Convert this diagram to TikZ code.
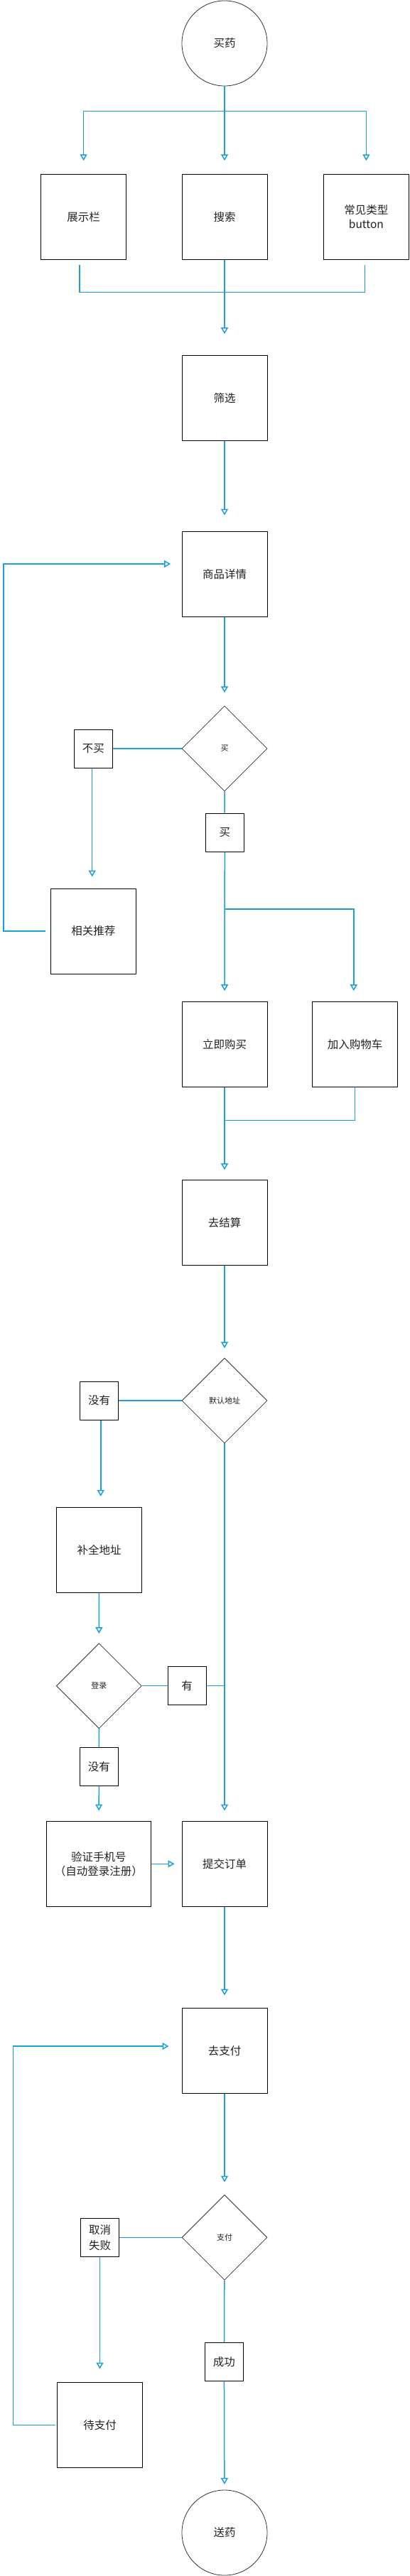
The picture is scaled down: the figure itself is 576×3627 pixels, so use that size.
\documentclass[tikz,border=0pt]{standalone}
\usepackage{fontspec}
\setmainfont{Noto Sans CJK SC}
\usetikzlibrary{shapes.geometric,arrows.meta}
\definecolor{bleu}{RGB}{27,160,222}
\definecolor{encre}{RGB}{34,34,34}

\begin{document}
\begin{tikzpicture}[x=1pt, y=-1pt,
  boite/.style={draw, line width=1pt, minimum width=120pt, minimum height=120pt, inner sep=0pt, align=center, text=encre, font=\fontsize{15.5}{20}\selectfont},
  etiq/.style={draw, line width=1pt, minimum width=54pt, minimum height=54pt, inner sep=0pt, align=center, text=encre, font=\fontsize{15.5}{22}\selectfont},
  losange/.style={diamond, draw=black!80, line width=0.8pt, aspect=1, minimum width=120pt, minimum height=120pt, inner sep=0pt, text=encre, font=\fontsize{11}{13}\selectfont},
  rond/.style={circle, draw=black!80, line width=0.8pt, minimum size=120pt, inner sep=0pt, text=encre, font=\fontsize{15.5}{18}\selectfont},
  lien/.style={bleu, line width=1.5pt},
  fleche/.style={lien, -{Triangle[open, length=9pt, width=10pt]}}]
  \useasboundingbox[fill=white] (0,0) rectangle (576,3627);
  % Entrée
  \node[rond] (buy) at (316,61) {买药};
  \node[boite] (disp) at (117.6,305.5) {展示栏};
  \node[boite] (search) at (316,305.5) {搜索};
  \node[boite] (types) at (515.4,305.5) {常见类型\\button};
  \coordinate (j1) at (316,156.7);
  \draw[fleche, shorten >=18.7pt] (buy) -- (search);
  \draw[fleche, shorten >=18.7pt] (j1) -| (disp);
  \draw[fleche, shorten >=18.7pt] (j1) -| (types);
  \draw[lien] ([xshift=-5.6pt, yshift=-7.4pt]disp.south) -- ++(0,38) -| ([xshift=-1.8pt, yshift=-7.4pt]types.south);
  % Choix du produit
  \node[boite] (filter) at (316,560.3) {筛选};
  \node[boite] (detail) at (316,808.3) {商品详情};
  \draw[fleche, shorten >=29.6pt] (search) -- (filter);
  \draw[fleche, shorten >=22.3pt] (filter) -- (detail);
  \node[losange] (dec1) at (316,1054) {买};
  \node[etiq] (nobuy) at (131.3,1054) {不买};
  \node[boite] (reco) at (131.3,1311) {相关推荐};
  \node[etiq] (yes) at (316.3,1172) {买};
  \draw[fleche, shorten >=18.3pt] (detail) -- (dec1);
  \draw[lien] (dec1) -- (nobuy);
  \draw[fleche, shorten >=16pt] ([xshift=-1.6pt]nobuy.south) -- ([xshift=-1.6pt]reco.north);
  \draw[fleche, shorten >=15.4pt] ([xshift=-7pt]reco.west) -- ++(-59,0) |- ([yshift=14.3pt]detail.west);
  \draw[lien] (dec1) -- (yes);
  % Achat
  \node[boite] (now) at (316,1470.3) {立即购买};
  \node[boite] (cart) at (499.5,1470.3) {加入购物车};
  \node[boite] (pay) at (316,1721.3) {去结算};
  \coordinate (j3) at (316,1280);
  \coordinate (j4) at (316,1577.3);
  \draw[fleche, shorten >=14.6pt] (yes) -- (now);
  \draw[fleche, shorten >=14.6pt] (j3) -| ([xshift=-1.7pt]cart.north);
  \draw[fleche, shorten >=13.6pt] (now) -- (pay);
  \draw[lien] (cart) |- (j4);
  % Adresse et connexion
  \node[losange] (dec2) at (316,1972) {默认地址};
  \node[etiq] (noaddr) at (139.5,1972) {没有};
  \node[boite] (fill) at (139.5,2182.3) {补全地址};
  \node[losange] (dec3) at (139.3,2373.7) {登录};
  \node[etiq] (have) at (263.2,2373.7) {有};
  \node[etiq] (nolog) at (139.4,2487.3) {没有};
  \node[boite, minimum width=147pt] (verify) at (138.9,2624.3) {验证手机号\\（自动登录注册）};
  \node[boite] (submit) at (316,2624.3) {提交订单};
  \coordinate (j5) at (316,2373.7);
  \draw[fleche, shorten >=13.3pt] (pay) -- (dec2);
  \draw[lien] (dec2) -- (noaddr);
  \draw[fleche, shorten >=15pt] ([xshift=2.3pt]noaddr.south) -- ([xshift=2.3pt]fill.north);
  \draw[fleche, shorten >=13.3pt] (fill) -- (dec3);
  \draw[lien] (dec3) -- (have);
  \draw[lien] (have) -- (j5);
  \draw[fleche, shorten >=14.3pt] (dec2) -- (submit);
  \draw[lien] (dec3) -- (nolog);
  \draw[fleche, shorten >=14.3pt] (nolog) -- (verify);
  \draw[fleche, shorten >=10pt] (verify) -- (submit);
  % Paiement
  \node[boite] (gopay) at (316,2887.3) {去支付};
  \node[losange] (dec4) at (316,3150.3) {支付};
  \node[etiq] (fail) at (140.5,3150.3) {取消\\失败};
  \node[boite] (wait) at (140.5,3414.3) {待支付};
  \node[etiq] (ok) at (315.4,3325.3) {成功};
  \node[rond] (deliver) at (316,3566) {送药};
  \draw[fleche, shorten >=17.3pt] (submit) -- (gopay);
  \draw[fleche, shorten >=17.4pt] (gopay) -- (dec4);
  \draw[lien] (dec4) -- (fail);
  \draw[fleche, shorten >=18.3pt] (fail) -- (wait);
  \draw[fleche, shorten >=18pt] ([xshift=-2.5pt]wait.west) -- ++(-59,0) |- ([yshift=6.3pt]gopay.west);
  \draw[lien] (dec4) -- (ok);
  \draw[fleche, shorten >=7.7pt] (ok) -- (deliver);
\end{tikzpicture}
\end{document}
